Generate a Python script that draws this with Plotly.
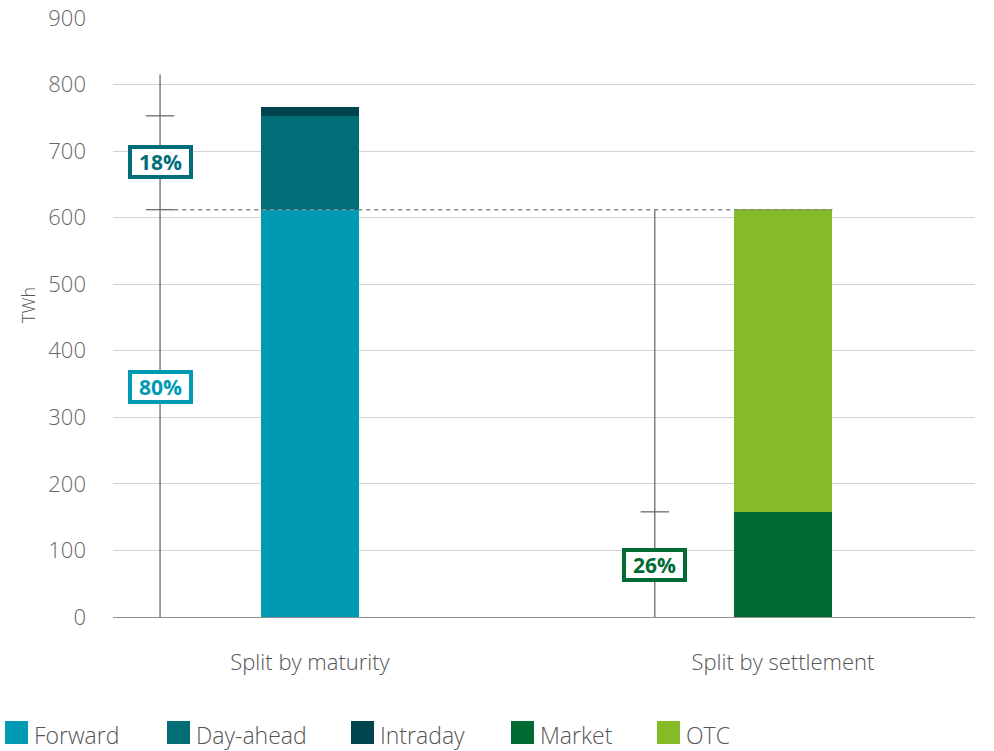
import plotly.graph_objects as go

# ---- data -------------------------------------------------------------
categories = ["Split by maturity", "Split by settlement"]
maturity_names = ["Forward", "Day-ahead", "Intraday"]
maturity_values = [612, 141, 13]
settlement_names = ["Market", "OTC"]
settlement_values = [158, 455]
y_ticks = [0, 100, 200, 300, 400, 500, 600, 700, 800, 900]

colors = {
    "Forward": "#009AB4",
    "Day-ahead": "#006D77",
    "Intraday": "#00444F",
    "Market": "#006A33",
    "OTC": "#84BB26",
}

FONT = "Open Sans"
GREY_TXT = "#555555"
BAR_W = 0.209

# plot-area geometry (pixels) used for paper-coordinate helpers
W, H = 994, 751
ML, MR, MT, MB = 113, 19, 18, 134
PW, PH = W - ML - MR, H - MT - MB


def px_x(px):
    return (px - ML) / PW


def px_y(py):
    return (H - MB - py) / PH


fig = go.Figure()

# stacked bars
for name, val in zip(maturity_names, maturity_values):
    fig.add_trace(go.Bar(x=[0], y=[val], name=name, width=BAR_W,
                         marker=dict(color=colors[name], line=dict(width=0)),
                         showlegend=False, hoverinfo="name+y"))
for name, val in zip(settlement_names, settlement_values):
    fig.add_trace(go.Bar(x=[1], y=[val], name=name, width=BAR_W,
                         marker=dict(color=colors[name], line=dict(width=0)),
                         showlegend=False, hoverinfo="name+y"))

mat_total = sum(maturity_values)
set_total = sum(settlement_values)
fwd_top = maturity_values[0]
da_top = maturity_values[0] + maturity_values[1]
mkt_top = settlement_values[0]

# bracket guides beside each bar
left_x = -0.317
right_x = 0.729
cap = 0.03
line_style = dict(color="#6b6b6b", width=1.3)

fig.add_trace(go.Scatter(x=[left_x, left_x], y=[0, 815], mode="lines",
                         line=line_style, showlegend=False, hoverinfo="skip"))
fig.add_trace(go.Scatter(x=[right_x, right_x], y=[0, set_total], mode="lines",
                         line=line_style, showlegend=False, hoverinfo="skip"))
for xc, yc in [(left_x, da_top), (left_x, fwd_top), (right_x, mkt_top)]:
    fig.add_trace(go.Scatter(x=[xc - cap, xc + cap], y=[yc, yc], mode="lines",
                             line=line_style, showlegend=False, hoverinfo="skip"))

# dashed reference at the forward level
fig.add_trace(go.Scatter(x=[left_x + cap, 1 + BAR_W / 2], y=[fwd_top, fwd_top],
                         mode="lines",
                         line=dict(color="#8a8a8a", width=1.6, dash="4px,4px"),
                         showlegend=False, hoverinfo="skip"))

# percentage boxes: (x, y, share, colour)
pct_labels = [
    (left_x, 684, maturity_values[1] / mat_total, colors["Day-ahead"]),
    (left_x, 345, maturity_values[0] / mat_total, colors["Forward"]),
    (right_x, 78, settlement_values[0] / set_total, colors["Market"]),
]
for xc, yl, share, col in pct_labels:
    fig.add_annotation(x=xc, y=yl, xref="x", yref="y",
                       text=f"<b>{round(share * 100)}%</b>", showarrow=False,
                       font=dict(family=FONT, size=21, color=col),
                       bgcolor="white", bordercolor=col, borderwidth=4,
                       borderpad=0, width=57, height=26, valign="middle")

# y-axis title
fig.add_annotation(x=px_x(14), y=px_y(305), xref="paper", yref="paper",
                   text="TWh", textangle=-90, showarrow=False,
                   font=dict(family=FONT, size=18, color=GREY_TXT, weight=300))

# legend built from shapes and labels
legend_items = ["Forward", "Day-ahead", "Intraday", "Market", "OTC"]
legend_x = [5, 167, 351, 511, 657]
for name, lx in zip(legend_items, legend_x):
    fig.add_shape(type="rect", xref="paper", yref="paper",
                  x0=px_x(lx), x1=px_x(lx + 23), y0=px_y(744), y1=px_y(721),
                  fillcolor=colors[name], line=dict(width=0))
    fig.add_annotation(x=px_x(lx + 27), y=px_y(735), xref="paper", yref="paper",
                       text=name, showarrow=False, xanchor="left", yanchor="middle",
                       font=dict(family=FONT, size=23, color=GREY_TXT, weight=300))

fig.update_layout(
    width=W, height=H,
    margin=dict(l=ML, r=MR, t=MT, b=MB),
    barmode="stack",
    bargap=0,
    plot_bgcolor="white", paper_bgcolor="white",
    font=dict(family=FONT, color=GREY_TXT),
    showlegend=False,
    xaxis=dict(range=[-0.4165, 1.406], tickvals=[0, 1], ticktext=categories,
               showgrid=False, zeroline=False, showline=False, ticks="",
               automargin=False, ticklabelstandoff=30,
               tickfont=dict(family=FONT, size=22, color=GREY_TXT, weight=300)),
    yaxis=dict(range=[0, 900], tickvals=y_ticks, showgrid=True,
               gridcolor="#d3d3d3", gridwidth=1,
               zeroline=True, zerolinecolor="#8f8f8f", zerolinewidth=1.3,
               showline=False, ticks="", ticklabelstandoff=26, automargin=False,
               tickfont=dict(family=FONT, size=22, color="#666666", weight=300)),
)

fig.write_html("out.html")
